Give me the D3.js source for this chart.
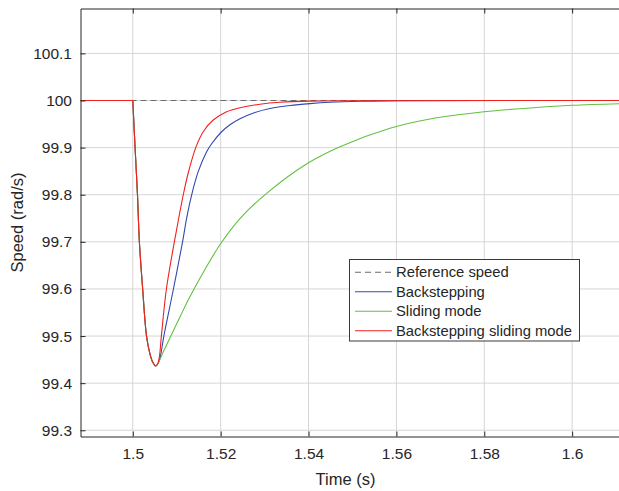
<!DOCTYPE html>
<html>
<head>
<meta charset="utf-8">
<script src="https://cdn.jsdelivr.net/npm/d3@7"></script>
<style>
  html, body { margin: 0; padding: 0; background: #fff; }
  svg { display: block; }
  text { font-family: "Liberation Sans", Arial, Helvetica, sans-serif; fill: #262626; }
</style>
</head>
<body>
<svg id="chart" width="619" height="491"></svg>
<script>
// Axis limits and ticks
const xLimits = [1.4881, 1.6118];
const yLimits = [99.2868, 100.1953];
const xTicks = [1.5, 1.52, 1.54, 1.56, 1.58, 1.6];
const yTicks = [99.3, 99.4, 99.5, 99.6, 99.7, 99.8, 99.9, 100, 100.1];

// Reference speed (rad/s)
const refTime  = [1.4881, 1.6118];
const refSpeed = [100, 100];

// Load applied at t = 1.5 s
const stepTime = 1.5;

// Common speed drop shared by all controllers down to the dip
const dropTime  = [1.4881, 1.5, 1.50055, 1.50107, 1.50150, 1.50225, 1.50312, 1.50389, 1.50451, 1.50519];
const dropSpeed = [100, 100, 99.895, 99.7994, 99.7003, 99.5999, 99.5005, 99.4627, 99.4451, 99.4364];

// Recovery of the backstepping controller
const bsTime  = [1.50565, 1.50617, 1.50708, 1.50925, 1.51134, 1.51225, 1.51339, 1.51489, 1.51681, 1.51795,
                 1.52006, 1.52211, 1.52439, 1.52781, 1.53123, 1.53579, 1.54034, 1.54489, 1.55172, 1.56083, 1.6118];
const bsSpeed = [99.4407, 99.4523, 99.5005, 99.5999, 99.7003, 99.7499, 99.7994, 99.8489, 99.8913, 99.9083,
                 99.9321, 99.9484, 99.9612, 99.9745, 99.9830, 99.9894, 99.9934, 99.9962, 99.9983, 99.9994, 100];

// Recovery of the sliding mode controller
const smTime  = [1.50569, 1.50708, 1.50868, 1.51084, 1.51300, 1.51642, 1.52006, 1.52439, 1.53047, 1.53981,
                 1.54716, 1.55855, 1.56766, 1.57996, 1.59043, 1.59999, 1.6118];
const smSpeed = [99.4411, 99.4693, 99.5005, 99.5426, 99.5835, 99.6413, 99.6969, 99.7495, 99.8030, 99.8667,
                 99.9019, 99.9410, 99.9607, 99.9760, 99.9841, 99.9898, 99.9934];

// Recovery of the backstepping sliding mode controller
const bsmTime  = [1.50565, 1.50606, 1.50651, 1.50765, 1.50947, 1.51059, 1.51148, 1.51262, 1.51437, 1.51603,
                  1.51831, 1.52136, 1.52439, 1.52895, 1.53350, 1.54034, 1.54945, 1.6118];
const bsmSpeed = [99.4407, 99.4566, 99.5005, 99.5999, 99.7003, 99.7570, 99.7994, 99.8461, 99.9010, 99.9338,
                  99.9586, 99.9762, 99.9847, 99.9921, 99.9962, 99.9987, 99.9996, 100];

const seriesNames  = ["Reference speed", "Backstepping", "Sliding mode", "Backstepping sliding mode"];
const seriesColors = ["#6b6b6b", "#3048b4", "#62c03e", "#f0201f"];

const zip = (ts, vs) => ts.map((t, i) => ({t, v: vs[i]}));
const series = [
  {name: seriesNames[0], color: seriesColors[0], dash: "6,4", pts: zip(refTime, refSpeed)},
  {name: seriesNames[1], color: seriesColors[1], dash: null, pts: zip(dropTime.concat(bsTime), dropSpeed.concat(bsSpeed))},
  {name: seriesNames[2], color: seriesColors[2], dash: null, pts: zip(dropTime.concat(smTime), dropSpeed.concat(smSpeed))},
  {name: seriesNames[3], color: seriesColors[3], dash: null, pts: zip(dropTime.concat(bsmTime), dropSpeed.concat(bsmSpeed))}
];

const box = {left: 80.5, top: 8.5, right: 624, bottom: 436.5};
const svg = d3.select("#chart");

const x = d3.scaleLinear().domain(xLimits).range([box.left, box.right]);
const y = d3.scaleLinear().domain(yLimits).range([box.bottom, box.top]);
const fmt = v => String(+v.toFixed(2));

// grid
const grid = svg.append("g").attr("stroke", "#d6d6d6").attr("stroke-width", 1);
grid.selectAll(".gx").data(xTicks).join("line")
  .attr("x1", d => x(d)).attr("x2", d => x(d))
  .attr("y1", box.top).attr("y2", box.bottom);
grid.selectAll(".gy").data(yTicks).join("line")
  .attr("x1", box.left).attr("x2", box.right)
  .attr("y1", d => y(d)).attr("y2", d => y(d));

// data lines: straight before the load step, smooth afterwards
svg.append("clipPath").attr("id", "plotClip").append("rect")
  .attr("x", box.left).attr("y", box.top)
  .attr("width", box.right - box.left).attr("height", box.bottom - box.top);

const straight = d3.line().x(d => x(d.t)).y(d => y(d.v));
const smooth = d3.line().x(d => x(d.t)).y(d => y(d.v)).curve(d3.curveCatmullRom.alpha(0.5));
function tracePath(pts) {
  const before = pts.filter(p => p.t <= stepTime);
  const after = pts.filter(p => p.t >= stepTime);
  if (before.length < 2 || after.length < 2) return smooth(pts);
  return straight(before) + smooth(after);
}

svg.append("g").attr("clip-path", "url(#plotClip)")
  .selectAll("path").data(series).join("path")
  .attr("d", d => tracePath(d.pts))
  .attr("fill", "none")
  .attr("stroke", d => d.color)
  .attr("stroke-width", 1.1)
  .attr("stroke-dasharray", d => d.dash);

// axes
function styleAxis(g) {
  g.selectAll("path, line").attr("stroke", "#262626");
  g.selectAll("text").attr("fill", "#262626")
    .style("font-size", "15.5px")
    .style("font-family", '"Liberation Sans", Arial, sans-serif');
}
svg.append("g").attr("transform", `translate(0,${box.bottom})`)
  .call(d3.axisBottom(x).tickValues(xTicks).tickFormat(fmt).tickSizeInner(-5).tickSizeOuter(0).tickPadding(11.5))
  .call(styleAxis);
svg.append("g").attr("transform", `translate(0,${box.top})`)
  .call(d3.axisTop(x).tickValues(xTicks).tickFormat("").tickSizeInner(-5).tickSizeOuter(0))
  .call(styleAxis);
svg.append("g").attr("transform", `translate(${box.left},0)`)
  .call(d3.axisLeft(y).tickValues(yTicks).tickFormat(fmt).tickSizeInner(-5).tickSizeOuter(0).tickPadding(8.5))
  .call(styleAxis);
svg.append("g").attr("transform", `translate(${box.right},0)`)
  .call(d3.axisRight(y).tickValues(yTicks).tickFormat("").tickSizeInner(-5).tickSizeOuter(0))
  .call(styleAxis);
svg.selectAll(".domain").attr("stroke-width", 1);

// axis titles
svg.append("text")
  .attr("x", 345.5).attr("y", 485)
  .attr("text-anchor", "middle")
  .style("font-size", "16.5px")
  .text("Time (s)");
svg.append("text")
  .attr("transform", `translate(23,${(box.top + box.bottom) / 2}) rotate(-90)`)
  .attr("text-anchor", "middle")
  .style("font-size", "16.5px")
  .text("Speed (rad/s)");

// legend
const lg = svg.append("g");
lg.append("rect")
  .attr("x", 349.5).attr("y", 259.5).attr("width", 230).attr("height", 81.5)
  .attr("fill", "#fff").attr("stroke", "#3a3a3a").attr("stroke-width", 1);
const rows = lg.selectAll(".row").data(series).join("g")
  .attr("transform", (d, i) => `translate(0,${272.3 + i * 19.5})`);
rows.append("line")
  .attr("x1", 355).attr("x2", 392).attr("y1", 0).attr("y2", 0)
  .attr("stroke", d => d.color).attr("stroke-width", 1.1)
  .attr("stroke-dasharray", d => d.dash);
rows.append("text")
  .attr("x", 396).attr("y", 0).attr("dy", "0.35em")
  .style("font-size", "14.8px")
  .text(d => d.name);
</script>
</body>
</html>
